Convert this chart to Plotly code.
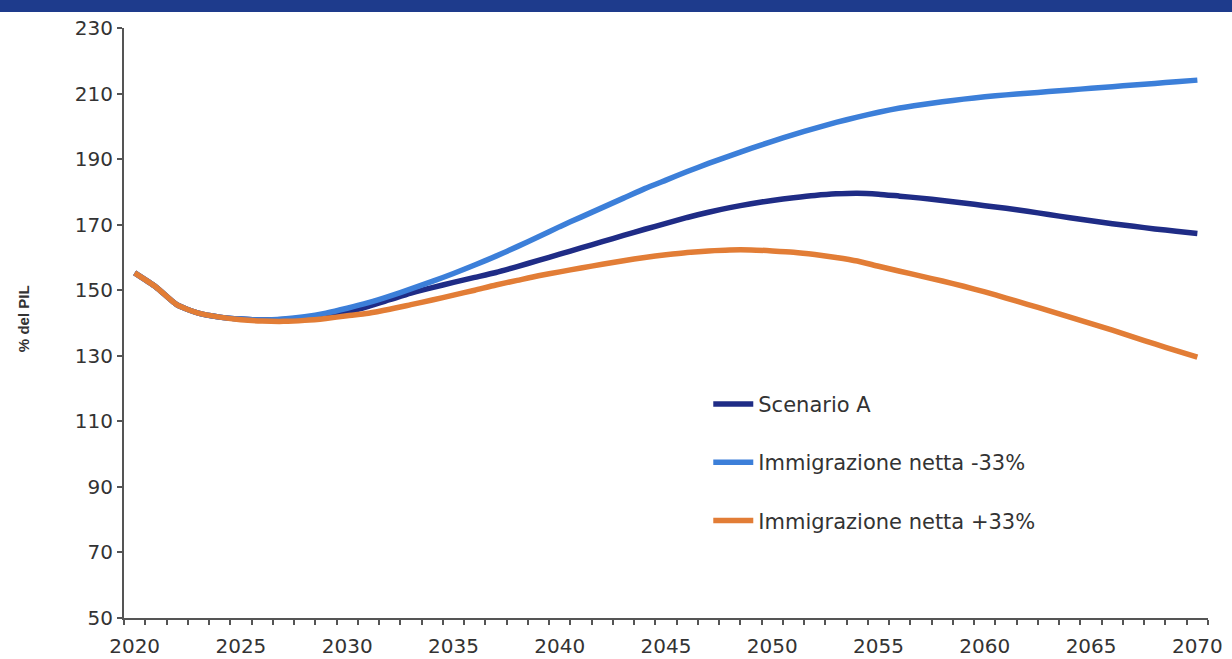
import plotly.graph_objects as go

years = list(range(2020, 2071))

scenario_a = [155.3, 151.0, 145.5, 143.0, 141.8, 141.2, 140.9, 141.1, 141.6, 142.3,
              143.4, 145.1, 147.1, 149.1, 150.8, 152.4, 153.9, 155.4, 157.2, 159.1,
              161.0, 162.9, 164.8, 166.7, 168.6, 170.4, 172.2, 173.8, 175.2, 176.4,
              177.4, 178.2, 178.9, 179.4, 179.6, 179.3, 178.7, 178.1, 177.4, 176.6,
              175.8, 175.0, 174.1, 173.1, 172.1, 171.2, 170.3, 169.5, 168.7, 168.0,
              167.3]

imm_minus = [155.3, 151.0, 145.5, 143.0, 141.8, 141.2, 140.9, 141.2, 141.9, 143.0,
             144.5, 146.2, 148.2, 150.4, 152.7, 155.1, 157.7, 160.4, 163.3, 166.3,
             169.4, 172.3, 175.2, 178.1, 181.0, 183.6, 186.2, 188.7, 191.0, 193.3,
             195.4, 197.5, 199.4, 201.2, 202.8, 204.3, 205.6, 206.6, 207.5, 208.3,
             209.0, 209.6, 210.1, 210.6, 211.1, 211.6, 212.1, 212.6, 213.1, 213.6,
             214.1]

imm_plus = [155.3, 151.0, 145.5, 143.0, 141.8, 141.0, 140.6, 140.5, 140.8, 141.4,
            142.2, 143.0, 144.2, 145.6, 147.0, 148.5, 150.0, 151.6, 153.0, 154.4,
            155.6, 156.8, 157.9, 159.0, 160.0, 160.8, 161.5, 162.0, 162.3, 162.3,
            162.0, 161.6, 160.9, 160.0, 158.9, 157.3, 155.8, 154.3, 152.8, 151.2,
            149.5, 147.6, 145.7, 143.8, 141.8, 139.8, 137.8, 135.7, 133.6, 131.6,
            129.6]

series_names = ["Scenario A", "Immigrazione netta -33%", "Immigrazione netta +33%"]
series_values = [scenario_a, imm_minus, imm_plus]
series_colors = ["#1f2c86", "#3c7fd9", "#e27d36"]

x_tick_vals = list(range(2020, 2071, 5))
y_tick_vals = list(range(50, 231, 20))
y_title = "% del PIL"

fig = go.Figure()
for name, vals, col in zip(series_names, series_values, series_colors):
    fig.add_trace(go.Scatter(
        x=years, y=vals, mode="lines", name=name, legendgroup=name,
        line=dict(color=col, width=5.5, shape="spline", smoothing=0.6),
    ))

fig.update_layout(
    width=1232, height=659,
    margin=dict(l=124, r=24, t=28, b=41),
    paper_bgcolor="white", plot_bgcolor="white",
    font=dict(family="DejaVu Sans", color="#404040"),
    showlegend=True,
    legend=dict(
        x=0.539, y=0.397, xanchor="left", yanchor="top",
        font=dict(family="DejaVu Sans", size=21, color="#333333"),
        bgcolor="rgba(0,0,0,0)", tracegroupgap=28, traceorder="grouped",
        itemwidth=40,
    ),
    xaxis=dict(
        range=[2019.5, 2070.5], tickmode="array", tickvals=x_tick_vals,
        ticktext=[str(v) for v in x_tick_vals], ticks="",
        tickfont=dict(size=20, color="#333333"), ticklabelstandoff=9,
        automargin=False,
        showgrid=False, zeroline=False, showline=True,
        linecolor="#555555", linewidth=2,
        minor=dict(tickmode="array", tickvals=[y + 0.5 for y in range(2019, 2071)],
                   ticks="outside", ticklen=5, tickwidth=2, tickcolor="#555555",
                   showgrid=False),
    ),
    yaxis=dict(
        range=[50, 230], tickmode="array", tickvals=y_tick_vals,
        ticks="outside", ticklen=5, tickwidth=2, tickcolor="#555555",
        tickfont=dict(size=20, color="#333333"), automargin=False,
        showgrid=False, zeroline=False, showline=True,
        linecolor="#555555", linewidth=2,
    ),
    shapes=[dict(type="rect", xref="paper", yref="paper",
                 x0=-0.2, x1=1.1, y0=1 + 16 / 590, y1=1.1,
                 fillcolor="#1e3b8c", line=dict(width=0), layer="above")],
    annotations=[dict(text=f"<b>{y_title}</b>", xref="paper", yref="paper",
                      x=-0.103, y=0.508, textangle=-90, showarrow=False,
                      font=dict(family="Liberation Sans Narrow, Arial Narrow, Liberation Sans",
                                size=15, color="#333333"))],
)

fig.write_html("out.html")
